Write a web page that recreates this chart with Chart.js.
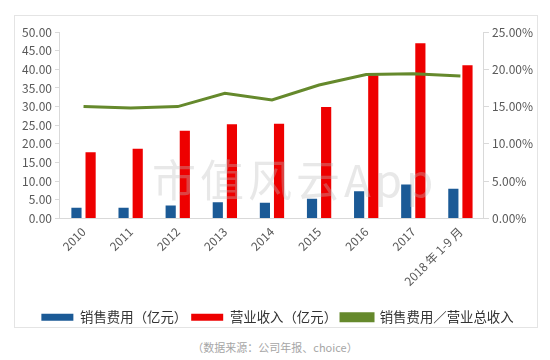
<!DOCTYPE html>
<html>
<head>
<meta charset="utf-8">
<script src="https://cdn.jsdelivr.net/npm/chart.js@4/dist/chart.umd.min.js"></script>
<style>
  body { margin: 0; background: #fff; width: 550px; height: 360px; position: relative; overflow: hidden; }
  #box { position: absolute; left: 14px; top: 15px; width: 524px; height: 313px; border: 1px solid #e4e4e4; box-sizing: border-box; }
  #box canvas { display: block; }
  #mark { position: absolute; left: 152px; top: 146px; font-family: "Noto Sans CJK SC", sans-serif; font-size: 44px; color: rgba(190,190,190,0.35); letter-spacing: 4px; pointer-events: none; }
  #src { position: absolute; left: 0; width: 550px; top: 339px; text-align: center; font-family: "Noto Sans CJK SC", sans-serif; font-size: 11px; color: #a6a6a6; }
</style>
</head>
<body>
<div id="box"><canvas id="myChart" width="522" height="318"></canvas></div>
<div id="mark">市值风云App</div>
<div id="src">（数据来源：公司年报、choice）</div>
<script>
var years = ["2010", "2011", "2012", "2013", "2014", "2015", "2016", "2017", "2018 年 1-9 月"];
var salesCost = [2.9, 2.9, 3.5, 4.4, 4.2, 5.3, 7.3, 9.1, 8.0];
var revenue = [17.8, 18.7, 23.5, 25.3, 25.4, 29.9, 38.4, 47.0, 41.1];
var ratio = [15.0, 14.8, 15.0, 16.8, 15.9, 17.9, 19.3, 19.4, 19.1];
var leftTicks = [0, 5, 10, 15, 20, 25, 30, 35, 40, 45, 50];
var rightTicks = [0, 5, 10, 15, 20, 25];

var font = "'Noto Sans CJK SC', sans-serif";
var axisColor = "#d9d9d9";

new Chart("myChart", {
  type: "bar",
  data: {
    labels: years,
    datasets: [{
      label: "销售费用（亿元）",
      data: salesCost,
      backgroundColor: "#1b5a96",
      yAxisID: "y",
      categoryPercentage: 0.6,
      barPercentage: 0.72
    }, {
      label: "营业收入（亿元）",
      data: revenue,
      backgroundColor: "#ee0000",
      yAxisID: "y",
      categoryPercentage: 0.6,
      barPercentage: 0.72
    }, {
      type: "line",
      label: "销售费用／营业总收入",
      data: ratio,
      borderColor: "#65892c",
      backgroundColor: "#65892c",
      borderWidth: 3,
      pointRadius: 0,
      tension: 0,
      yAxisID: "y1",
      order: -1
    }]
  },
  options: {
    responsive: false,
    animation: false,
    devicePixelRatio: 1,
    layout: { padding: { left: 4, right: 1, top: 16, bottom: 0 } },
    plugins: {
      tooltip: { enabled: false },
      legend: {
        position: "bottom",
        labels: {
          font: { family: font, size: 13.4 },
          color: "#333",
          boxWidth: 32,
          boxHeight: 7,
          padding: 4,
          sort: function (a, b) { return a.datasetIndex - b.datasetIndex; }
        }
      }
    },
    scales: {
      x: {
        grid: { drawOnChartArea: false, drawTicks: false },
        border: { color: axisColor },
        afterFit: function (axis) { axis.height += 12; },
        ticks: {
          font: { family: font, size: 12 },
          color: "#595959",
          autoSkip: false,
          minRotation: 45,
          maxRotation: 45,
          padding: 6
        }
      },
      y: {
        position: "left",
        min: 0,
        max: 50,
        afterBuildTicks: function (axis) { axis.ticks = leftTicks.map(function (v) { return { value: v }; }); },
        grid: { drawOnChartArea: false, tickLength: 5, color: axisColor },
        border: { color: axisColor },
        ticks: {
          font: { family: font, size: 12 },
          color: "#595959",
          padding: 3,
          callback: function (v) { return v.toFixed(2); }
        }
      },
      y1: {
        position: "right",
        min: 0,
        max: 25,
        afterBuildTicks: function (axis) { axis.ticks = rightTicks.map(function (v) { return { value: v }; }); },
        grid: { drawOnChartArea: false, tickLength: 5, color: axisColor },
        border: { color: axisColor },
        ticks: {
          font: { family: font, size: 12 },
          color: "#595959",
          padding: 3,
          callback: function (v) { return v.toFixed(2) + "%"; }
        }
      }
    }
  }
});
</script>
</body>
</html>
